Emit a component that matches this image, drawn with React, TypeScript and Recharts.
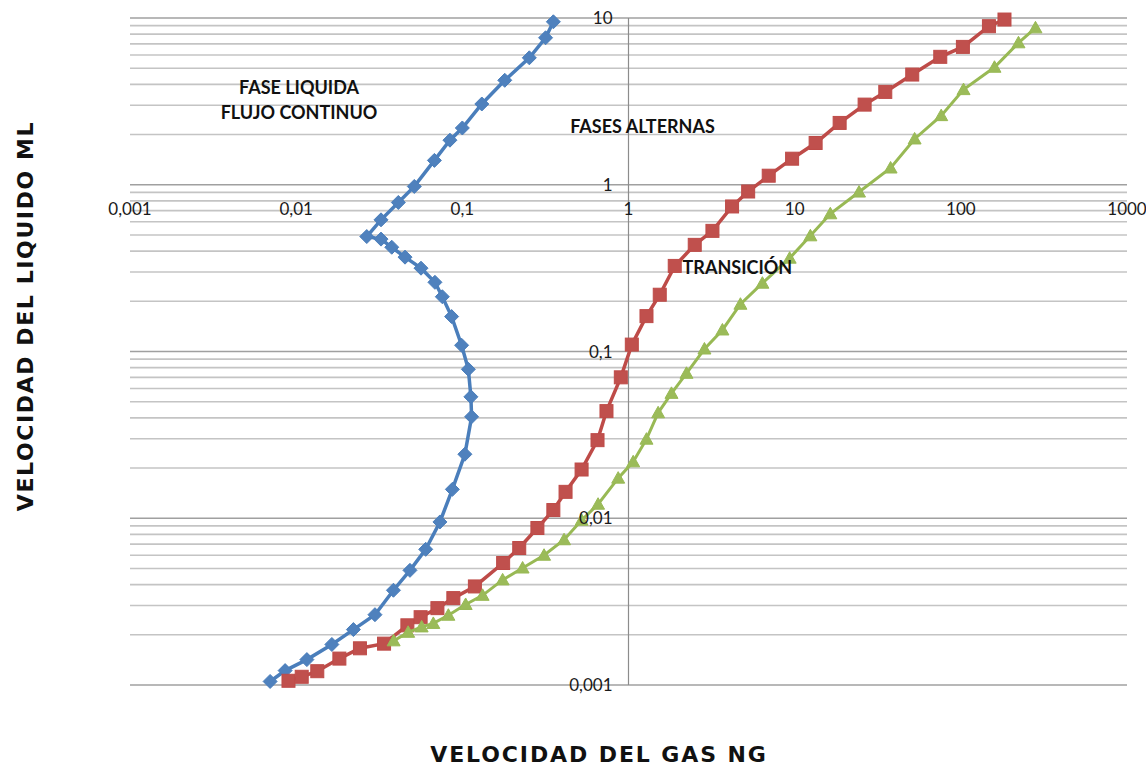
import { ScatterChart, Scatter, XAxis, YAxis, ReferenceLine, ReferenceDot } from 'recharts';

// Fase liquida / flujo continuo boundary (blue)
const liquidoX = [0.353, 0.317, 0.253, 0.18, 0.131, 0.1, 0.0842, 0.0679, 0.0514, 0.0412, 0.0324, 0.0266, 0.0324, 0.0376, 0.0452, 0.0564, 0.0684, 0.0758, 0.0862, 0.099, 0.1087, 0.1126, 0.1137, 0.1036, 0.0871, 0.0733, 0.0602, 0.0484, 0.0385, 0.0298, 0.0221, 0.0164, 0.0116, 0.00858, 0.00697];
const liquidoY = [9.49, 7.61, 5.77, 4.23, 3.05, 2.19, 1.85, 1.4, 0.977, 0.783, 0.616, 0.489, 0.472, 0.422, 0.368, 0.316, 0.26, 0.213, 0.162, 0.109, 0.0782, 0.0535, 0.0406, 0.0242, 0.0149, 0.0095, 0.00651, 0.00487, 0.0037, 0.00264, 0.00215, 0.00175, 0.00142, 0.00122, 0.00105];

// Fases alternas boundary (red)
const alternasX = [0.00899, 0.0108, 0.0134, 0.0182, 0.0242, 0.0338, 0.0467, 0.0561, 0.0708, 0.0883, 0.119, 0.176, 0.22, 0.283, 0.353, 0.418, 0.522, 0.651, 0.737, 0.899, 1.047, 1.283, 1.542, 1.898, 2.504, 3.2, 4.2, 5.25, 6.98, 9.65, 13.37, 18.65, 26.36, 35.1, 51.0, 75.2, 102.9, 147.6, 183.1];
const alternasY = [0.00106, 0.00112, 0.00121, 0.00144, 0.00166, 0.00177, 0.00228, 0.00255, 0.00289, 0.00332, 0.0039, 0.00539, 0.00663, 0.00874, 0.0112, 0.0144, 0.0196, 0.0294, 0.0439, 0.07, 0.11, 0.163, 0.219, 0.326, 0.436, 0.529, 0.741, 0.911, 1.133, 1.433, 1.78, 2.348, 3.024, 3.604, 4.58, 5.85, 6.71, 8.93, 9.79];

// Transicion boundary (green)
const transicionX = [0.0386, 0.0472, 0.0569, 0.0669, 0.0824, 0.1047, 0.1324, 0.1748, 0.2305, 0.3103, 0.4095, 0.522, 0.656, 0.867, 1.067, 1.283, 1.508, 1.814, 2.233, 2.864, 3.675, 4.716, 6.395, 9.33, 12.43, 16.39, 24.39, 37.78, 52.7, 76.2, 103.8, 159.4, 222.3, 281.3];
const transicionY = [0.00184, 0.00207, 0.00223, 0.00234, 0.00262, 0.00304, 0.00345, 0.00427, 0.00503, 0.006, 0.00743, 0.00973, 0.01214, 0.0174, 0.0218, 0.0298, 0.0429, 0.0561, 0.074, 0.1035, 0.1346, 0.1921, 0.2568, 0.3628, 0.494, 0.6696, 0.904, 1.26, 1.882, 2.597, 3.72, 5.065, 7.1, 8.73];

const xTicks = [0.001, 0.01, 0.1, 1, 10, 100, 1000];
const xTickLabels = ['0,001', '0,01', '0,1', '1', '10', '100', '1000'];
const yTicks = [0.001, 0.01, 0.1, 1, 10];
const yTickLabels = ['0,001', '0,01', '0,1', '1', '10'];
const decades = [0.001, 0.01, 0.1, 1];
const multiples = [2, 3, 4, 5, 6, 7, 8, 9];

const zip = (xs: number[], ys: number[]) => xs.map((x, i) => ({ x, y: ys[i] }));

const liquidoData = zip(liquidoX, liquidoY);
const alternasData = zip(alternasX, alternasY);
const transicionData = zip(transicionX, transicionY);
const minorGrid = decades.flatMap((d) => multiples.map((m) => +(d * m).toPrecision(3)));

const tickFont = 'Lato, "Open Sans", sans-serif';
const titleFont = '"DejaVu Sans", sans-serif';

const Diamond = (p: any) => (
  <path
    d={`M${p.cx},${p.cy - 7}L${p.cx + 7},${p.cy}L${p.cx},${p.cy + 7}L${p.cx - 7},${p.cy}Z`}
    fill="#4f81bd"
    stroke="#4a7ebb"
  />
);

const Square = (p: any) => (
  <rect x={p.cx - 6.5} y={p.cy - 6.5} width={13} height={13} fill="#c0504d" stroke="#be4b48" />
);

const Triangle = (p: any) => (
  <path
    d={`M${p.cx},${p.cy - 6.5}L${p.cx + 6.5},${p.cy + 5}L${p.cx - 6.5},${p.cy + 5}Z`}
    fill="#9bbb59"
    stroke="#98b954"
  />
);

const annotation = (value: string) => ({
  value,
  position: 'center' as const,
  fill: '#111',
  fontSize: 18,
  fontWeight: 700,
  fontFamily: tickFont,
});

export default function App() {
  return (
    <div style={{ position: 'absolute', left: 0, top: 0, width: 1146, height: 766, background: '#fff' }}>
      <ScatterChart
        width={1146}
        height={766}
        margin={{ top: 18, right: 19, bottom: 81, left: 130 }}
        style={{ overflow: 'visible' }}
      >
        <XAxis type="number" dataKey="x" scale="log" domain={[0.001, 1000]} hide />
        <YAxis type="number" dataKey="y" scale="log" domain={[0.001, 10]} hide />

        {minorGrid.map((v) => (
          <ReferenceLine key={`m${v}`} y={v} stroke="#c4c4c4" strokeWidth={1.6} />
        ))}
        {yTicks.map((v) => (
          <ReferenceLine key={`M${v}`} y={v} stroke="#a0a0a0" strokeWidth={1.6} />
        ))}
        <ReferenceLine x={1} stroke="#8c8c8c" strokeWidth={1.2} />

        {xTicks.map((v, i) => (
          <ReferenceDot
            key={`xt${v}`}
            x={v}
            y={1}
            r={0}
            fill="none"
            stroke="none"
            label={{ value: xTickLabels[i], position: 'bottom', offset: 18, fill: '#1a1a1a', fontSize: 17, fontFamily: tickFont }}
          />
        ))}
        {yTicks.map((v, i) => (
          <ReferenceDot
            key={`yt${v}`}
            x={1}
            y={v}
            r={0}
            fill="none"
            stroke="none"
            label={{ value: yTickLabels[i], position: 'left', offset: 16, fill: '#1a1a1a', fontSize: 17, fontFamily: tickFont }}
          />
        ))}

        <Scatter
          data={liquidoData}
          shape={Diamond}
          line={{ stroke: '#4a7ebb', strokeWidth: 3.5 }}
          lineType="joint"
          isAnimationActive={false}
        />
        <Scatter
          data={alternasData}
          shape={Square}
          line={{ stroke: '#be4b48', strokeWidth: 3.5 }}
          lineType="joint"
          isAnimationActive={false}
        />
        <Scatter
          data={transicionData}
          shape={Triangle}
          line={{ stroke: '#98b954', strokeWidth: 3 }}
          lineType="joint"
          isAnimationActive={false}
        />

        <ReferenceDot x={0.0104} y={3.82} r={0} fill="none" stroke="none" label={annotation('FASE LIQUIDA')} />
        <ReferenceDot x={0.0104} y={2.71} r={0} fill="none" stroke="none" label={annotation('FLUJO CONTINUO')} />
        <ReferenceDot x={1.214} y={2.23} r={0} fill="none" stroke="none" label={annotation('FASES ALTERNAS')} />
        <ReferenceDot x={4.52} y={0.317} r={0} fill="none" stroke="none" label={annotation('TRANSICIÓN')} />
      </ScatterChart>

      <div
        style={{
          position: 'absolute',
          left: 0,
          width: 1198,
          top: 744,
          height: 22,
          lineHeight: '22px',
          textAlign: 'center',
          fontFamily: titleFont,
          fontWeight: 700,
          fontSize: 22,
          letterSpacing: 1.9,
          color: '#111',
        }}
      >
        VELOCIDAD DEL GAS NG
      </div>
      <div
        style={{
          position: 'absolute',
          left: 26 - 220,
          top: 316 - 12,
          width: 440,
          height: 24,
          lineHeight: '24px',
          textAlign: 'center',
          transform: 'rotate(-90deg)',
          fontFamily: titleFont,
          fontWeight: 700,
          fontSize: 22,
          letterSpacing: 1.6,
          color: '#111',
        }}
      >
        VELOCIDAD DEL LIQUIDO ML
      </div>
    </div>
  );
}
